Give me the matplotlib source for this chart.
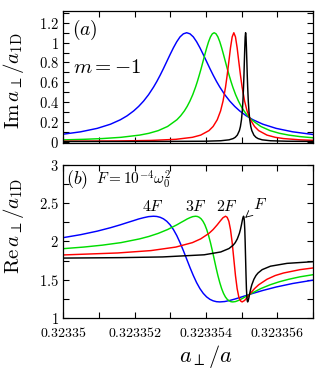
import numpy as np
import matplotlib
matplotlib.use('Agg')
import matplotlib.pyplot as plt
from matplotlib.ticker import MultipleLocator, FuncFormatter

plt.rcParams['mathtext.fontset'] = 'cm'
plt.rcParams['font.family'] = 'DejaVu Serif'

# a_perp/a values, stored as offset from 0.32335 in units of 1e-6
x_base = 0.32335

# F (black)
du_F = [0.0, 1.63, 2.79, 3.95, 4.414, 4.646, 4.762, 4.82, 4.878, 4.936, 4.965, 4.994,
        5.017, 5.035, 5.052, 5.064, 5.075, 5.087, 5.098, 5.11, 5.122, 5.133, 5.145,
        5.156, 5.168, 5.185, 5.203, 5.226, 5.255, 5.284, 5.342, 5.40, 5.458, 5.574,
        5.806, 6.27, 7.0]
im_F = [0.0001, 0.0003, 0.0007, 0.0027, 0.0076, 0.0169, 0.0297, 0.0423, 0.0647, 0.11,
        0.152, 0.22, 0.309, 0.409, 0.55, 0.671, 0.809, 0.948, 1.058, 1.1, 1.058, 0.948,
        0.809, 0.671, 0.55, 0.409, 0.309, 0.22, 0.152, 0.11, 0.0647, 0.0423, 0.0297,
        0.0169, 0.0076, 0.0027, 0.001]
re_F = [1.783, 1.789, 1.798, 1.826, 1.863, 1.908, 1.952, 1.985, 2.034, 2.106, 2.156,
        2.218, 2.273, 2.311, 2.33, 2.316, 2.264, 2.156, 1.985, 1.77, 1.555, 1.384, 1.276,
        1.224, 1.21, 1.229, 1.267, 1.322, 1.384, 1.434, 1.506, 1.555, 1.588, 1.632,
        1.677, 1.714, 1.736]

# 2F (red)
du_2F = [0.0, 1.532, 2.46, 3.156, 3.62, 3.852, 4.084, 4.2, 4.316, 4.409, 4.478, 4.548,
         4.594, 4.641, 4.687, 4.734, 4.78, 4.826, 4.873, 4.919, 4.966, 5.012, 5.082,
         5.151, 5.244, 5.36, 5.476, 5.708, 5.94, 6.172, 6.636, 7.0]
im_2F = [0.0026, 0.0056, 0.0109, 0.022, 0.0423, 0.0647, 0.11, 0.152, 0.22, 0.309, 0.409,
         0.55, 0.671, 0.809, 0.948, 1.058, 1.1, 1.058, 0.948, 0.809, 0.671, 0.55, 0.409,
         0.309, 0.22, 0.152, 0.11, 0.0647, 0.0423, 0.0297, 0.0169, 0.0119]
re_2F = [1.824, 1.85, 1.881, 1.927, 1.985, 2.034, 2.106, 2.156, 2.218, 2.273, 2.311,
         2.33, 2.316, 2.264, 2.156, 1.985, 1.77, 1.555, 1.384, 1.276, 1.224, 1.21, 1.229,
         1.267, 1.322, 1.384, 1.434, 1.506, 1.555, 1.588, 1.632, 1.654]

# 3F (green)
du_3F = [0.0, 0.576, 1.098, 1.62, 2.142, 2.403, 2.664, 2.925, 3.186, 3.290,
         3.395, 3.473, 3.551, 3.630, 3.708, 3.760, 3.812, 3.865, 3.917, 3.969,
         4.021, 4.073, 4.126, 4.178, 4.23, 4.282, 4.334, 4.387, 4.439, 4.491,
         4.543, 4.595, 4.648, 4.700, 4.752, 4.830, 4.909, 4.987, 5.065, 5.170,
         5.274, 5.535, 5.796, 6.057, 6.318, 6.631, 7.0]
im_3F = [0.0165, 0.022, 0.0297, 0.0423, 0.0647, 0.083, 0.11, 0.152, 0.22, 0.2594,
         0.309, 0.3546, 0.409, 0.4736, 0.55, 0.6077, 0.671, 0.738, 0.809, 0.88,
         0.948, 1.009, 1.058, 1.089, 1.1, 1.089, 1.058, 1.009, 0.948, 0.88,
         0.809, 0.738, 0.671, 0.6077, 0.55, 0.4736, 0.409, 0.3546, 0.309, 0.2594,
         0.22, 0.152, 0.11, 0.083, 0.0647, 0.0496, 0.0377]
re_3F = [1.906, 1.927, 1.952, 1.985, 2.034, 2.066, 2.106, 2.156, 2.218, 2.246,
         2.273, 2.294, 2.311, 2.325, 2.33, 2.327, 2.316, 2.296, 2.264, 2.218,
         2.156, 2.078, 1.985, 1.881, 1.77, 1.659, 1.555, 1.462, 1.384, 1.322,
         1.276, 1.244, 1.224, 1.213, 1.21, 1.215, 1.229, 1.247, 1.267, 1.295,
         1.322, 1.384, 1.434, 1.474, 1.506, 1.538, 1.566]

# 4F (blue)
du_4F = [0.0, 0.49, 0.954, 1.326, 1.604, 1.790, 1.975, 2.114, 2.254, 2.393,
         2.532, 2.625, 2.718, 2.810, 2.903, 2.996, 3.089, 3.182, 3.274, 3.367,
         3.46, 3.553, 3.646, 3.738, 3.831, 3.924, 4.017, 4.110, 4.202, 4.295,
         4.388, 4.527, 4.666, 4.806, 4.945, 5.130, 5.316, 5.594, 5.966, 6.43, 7.0]
im_4F = [0.0738, 0.0979, 0.1327, 0.1749, 0.22, 0.2594, 0.309, 0.3546, 0.409, 0.4736,
         0.55, 0.6077, 0.671, 0.738, 0.809, 0.88, 0.948, 1.009, 1.058, 1.089,
         1.1, 1.089, 1.058, 1.009, 0.948, 0.88, 0.809, 0.738, 0.671, 0.6077,
         0.55, 0.4736, 0.409, 0.3546, 0.309, 0.2594, 0.22, 0.1749, 0.1327, 0.0979, 0.0707]
re_4F = [2.05, 2.089, 2.135, 2.18, 2.218, 2.246, 2.273, 2.294, 2.311, 2.325,
         2.33, 2.327, 2.316, 2.296, 2.264, 2.218, 2.156, 2.078, 1.985, 1.881,
         1.77, 1.659, 1.555, 1.462, 1.384, 1.322, 1.276, 1.244, 1.224, 1.213,
         1.21, 1.215, 1.229, 1.247, 1.267, 1.295, 1.322, 1.36, 1.405, 1.451, 1.495]

series = [
    (du_4F, im_4F, re_4F, 'blue', r'$4F$'),
    (du_3F, im_3F, re_3F, '#00dd00', r'$3F$'),
    (du_2F, im_2F, re_2F, 'red', r'$2F$'),
    (du_F, im_F, re_F, 'black', r'$F$'),
]


def xval(du):
    return x_base + np.array(du) * 1e-6


fig = plt.figure(figsize=(3.27, 3.71), dpi=100)
ax1 = fig.add_axes([0.193, 0.6146, 0.7645, 0.3558])
ax2 = fig.add_axes([0.193, 0.1429, 0.7645, 0.4124])

for du, im, re, col, lab in series:
    ax1.plot(xval(du), im, color=col, lw=1.05)
    ax2.plot(xval(du), re, color=col, lw=1.05)

xlim = (x_base, x_base + 7e-6)
for ax in (ax1, ax2):
    ax.set_xlim(*xlim)
    ax.xaxis.set_major_locator(MultipleLocator(2e-6))
    ax.xaxis.set_minor_locator(MultipleLocator(1e-6))
    ax.tick_params(which='both', direction='in', top=True, right=True,
                   length=4, width=0.8, labelsize=10.5, pad=3)
    for sp in ax.spines.values():
        sp.set_linewidth(0.9)

ax1.set_ylim(-0.015, 1.32)
ax1.yaxis.set_major_locator(MultipleLocator(0.2))
ax1.yaxis.set_minor_locator(MultipleLocator(0.1))
ax1.yaxis.set_major_formatter(FuncFormatter(lambda v, p: r'$%g$' % round(v, 2)))
ax1.tick_params(axis='x', labelbottom=False)

ax2.set_ylim(1, 3)
ax2.yaxis.set_major_locator(MultipleLocator(0.5))
ax2.yaxis.set_minor_locator(MultipleLocator(0.25))
ax2.yaxis.set_major_formatter(FuncFormatter(lambda v, p: r'$%g$' % round(v, 2)))
ax2.xaxis.set_major_formatter(FuncFormatter(lambda v, p: r'$%g$' % round(v, 7)))
ax2.tick_params(axis='x', labelsize=10, pad=6)

ax1.set_ylabel(r'$\mathrm{Im}\,a_\perp/a_{1\mathrm{D}}$', fontsize=15)
ax1.yaxis.set_label_coords(-0.15, 0.47)
ax2.set_ylabel(r'$\mathrm{Re}\,a_\perp/a_{1\mathrm{D}}$', fontsize=15)
ax2.yaxis.set_label_coords(-0.15, 0.6)
ax2.set_xlabel(r'$a_\perp/a$', fontsize=16)
ax2.xaxis.set_label_coords(0.57, -0.165)

ax1.text(0.035, 0.86, r'$(a)$', transform=ax1.transAxes, fontsize=14, va='center')
ax1.text(0.04, 0.57, r'$m=-1$', transform=ax1.transAxes, fontsize=15, va='center')
ax2.text(0.01, 0.905, r'$(b)$', transform=ax2.transAxes, fontsize=13, va='center')
ax2.text(0.13, 0.905, r'$F=10^{-4}\omega_0^2$', transform=ax2.transAxes,
         fontsize=11, va='center')

# curve labels in the lower panel
lab_du = [2.52, 3.73, 4.58]
lab_y = [2.46, 2.46, 2.46]
for (du, im, re, col, lab), lx, ly in zip(series[:3], lab_du, lab_y):
    ax2.text(xval(lx), ly, lab, fontsize=11.5, ha='center', va='center')
ax2.annotate(r'$F$', xy=(xval(5.1), 2.31), xytext=(xval(5.52), 2.48),
             fontsize=11.5, ha='center', va='center',
             arrowprops=dict(arrowstyle='->', lw=0.6, shrinkA=4, shrinkB=0))

fig.savefig('out.png', dpi=100)
